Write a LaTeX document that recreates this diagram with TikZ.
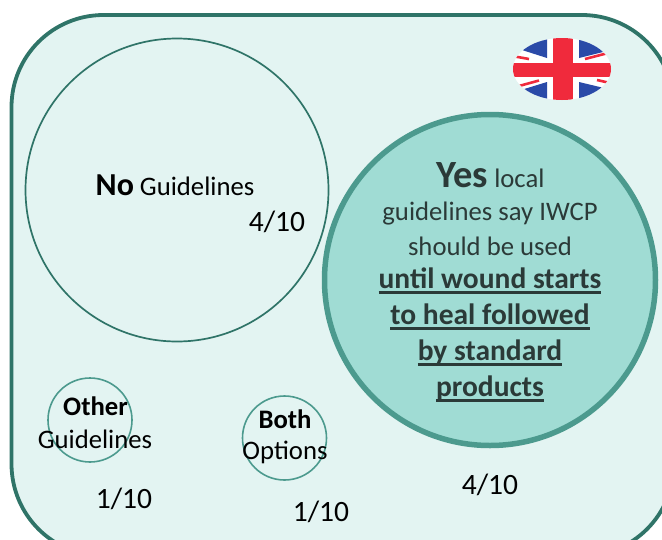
\documentclass[tikz,border=0pt]{standalone}
\usepackage{fontspec}
\setmainfont{Carlito}
\definecolor{frame}{HTML}{2F7468}
\definecolor{pale}{HTML}{E3F4F2}
\definecolor{midc}{HTML}{A0DCD4}
\definecolor{ringb}{HTML}{4C9A8E}
\definecolor{flagred}{HTML}{F02A3C}
\definecolor{flagblue}{HTML}{2A4AA8}
\definecolor{softink}{HTML}{2B3A38}
\newcommand{\thickul}[1]{\setbox0\hbox{#1}\rlap{\rule[-5.5pt]{\wd0}{2.2pt}}\box0}
\tikzset{
  lab/.style={align=center,text=black,inner sep=0pt},
  small/.style={lab,font=\fontsize{26.7}{26.7}\selectfont},
  bolder/.style={lab,text=softink,font=\fontsize{29.5}{29.5}\selectfont\bfseries},
  frac/.style={lab,font=\fontsize{29.5}{29.5}\selectfont},
}
\begin{document}
\begin{tikzpicture}[x=1pt,y=-1pt]
\useasboundingbox (0,0) rectangle (662,539);
\clip (0,0) rectangle (662,539);
\draw[frame,line width=3.8pt,fill=pale,rounded corners=92pt] (11.5,15) rectangle (674,556);
\node[circle,draw=frame,line width=1.7pt,fill=pale,minimum size=303pt,inner sep=0pt] (no) at (177,190) {};
\node[circle,draw=ringb,line width=5.5pt,fill=midc,minimum size=331pt,inner sep=0pt] (yes) at (490,280) {};
\node[circle,draw=ringb,line width=1.6pt,fill=pale,minimum size=84pt,inner sep=0pt] (other) at (90,420) {};
\node[circle,draw=ringb,line width=1.6pt,fill=pale,minimum size=84pt,inner sep=0pt] (both) at (284.5,438) {};
% flag
\begin{scope}
\clip (562,69) ellipse [x radius=49,y radius=31];
\fill[white] (510,35) rectangle (615,105);
\fill[flagblue] (547,33) -- (547,58) -- (522,50) -- (533,33) -- cycle;
\fill[flagblue] (579,33) -- (579,58) -- (607,51) -- (592,33) -- cycle;
\fill[flagblue] (547,105) -- (547,82) -- (521,90) -- (533,105) -- cycle;
\fill[flagblue] (579,105) -- (579,82) -- (604,88) -- (592,105) -- cycle;
\draw[flagred,line width=2.6pt] (515,56.5) -- (529,59);
\draw[flagred,line width=2.6pt] (585,59) -- (608,53);
\draw[flagred,line width=2.6pt] (519,86) -- (539,80.5);
\draw[flagred,line width=2.6pt] (597,80) -- (610,83);
\fill[flagred] (553,35) rectangle (572.5,105);
\fill[flagred] (510,63) rectangle (615,77);
\end{scope}
% labels
\node[lab,font=\fontsize{26.7}{26.7}\selectfont] (t1) at (175,185.5) {{\fontsize{32}{32}\selectfont\bfseries No} Guidelines};
\node[frac] (f1) at (277,222) {4/10};
\node[lab,text=softink,font=\fontsize{26.7}{26.7}\selectfont] (y1) at (490.5,175) {{\fontsize{38.5}{38.5}\selectfont\bfseries Yes} local};
\node[small,text=softink] (y2) at (490,214) {guidelines say IWCP};
\node[small,text=softink] (y3) at (490,246) {should be used};
\node[bolder,anchor=base] (y4) at (490,288) {\thickul{until wound starts}};
\node[bolder,anchor=base] (y5) at (490,324) {\thickul{to heal followed}};
\node[bolder,anchor=base] (y6) at (490,360) {\thickul{by standard}};
\node[bolder,anchor=base] (y7) at (490,396) {\thickul{products}};
\node[lab,font=\fontsize{26.7}{26.7}\selectfont\bfseries] (o1) at (95.5,406) {Other};
\node[small] (o2) at (95,439) {Guidelines};
\node[lab,font=\fontsize{26.7}{26.7}\selectfont\bfseries] (b1) at (285,419) {Both};
\node[small] (b2) at (285,452) {Options};
\node[frac] (f2) at (124,499) {1/10};
\node[frac] (f3) at (321,512) {1/10};
\node[frac] (f4) at (490,485) {4/10};
\end{tikzpicture}
\end{document}
